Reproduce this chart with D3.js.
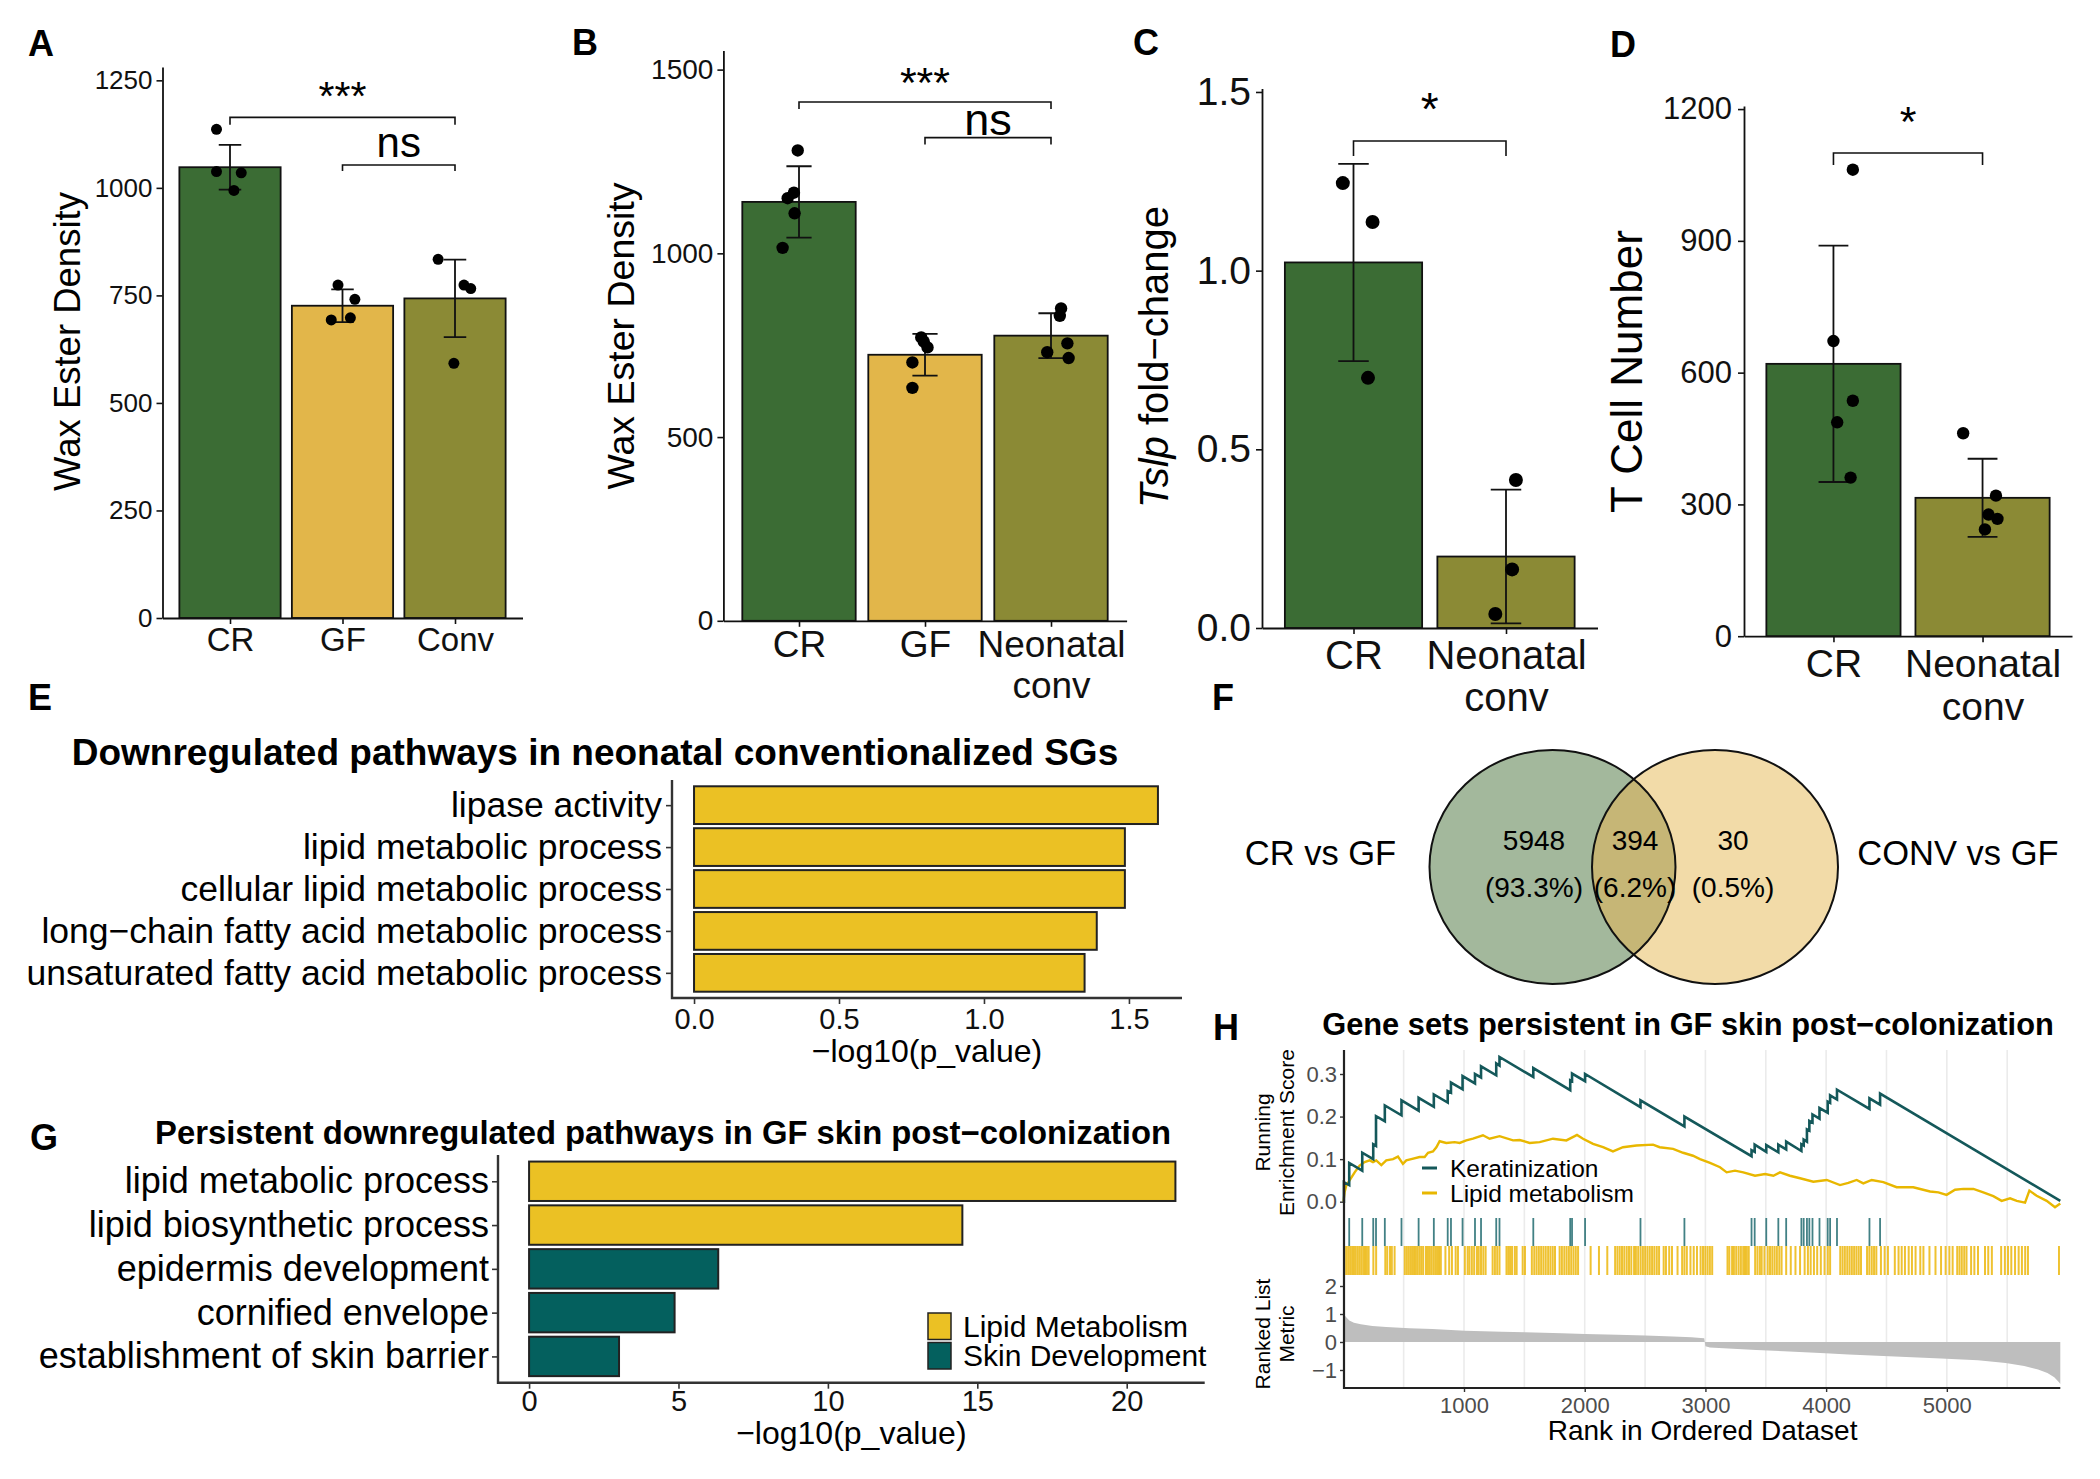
<!DOCTYPE html>
<html><head><meta charset="utf-8">
<script src="https://cdn.jsdelivr.net/npm/d3@7"></script>
<style>
html,body{margin:0;padding:0;background:#fff;}
svg{display:block;font-family:"Liberation Sans",Arial,Helvetica,sans-serif;}
</style></head><body>
<svg id="fig" width="2100" height="1479"></svg>
<script>
// ---------------- DATA ----------------
// Panel A
const catsA = ["CR","GF","Conv"];
const meanA = [1048, 726, 743];
const sdA = [52, 38, 90];
const ptsA = [[1136,1038,1035,994],[774,741,693,698],[834,774,766,592]];
const jitterA = [[-0.12,-0.12,0.10,0.035],[-0.04,0.11,-0.10,0.07],[-0.15,0.08,0.14,-0.01]];
const ticksA = [0,250,500,750,1000,1250];
const sigA = [{from:"CR",to:"Conv",y:1164,label:"***"},{from:"GF",to:"Conv",y:1053,label:"ns"}];
// Panel B
const catsB = ["CR","GF","Neonatal\nconv"];
const meanB = [1140, 724, 776];
const sdB = [97, 57, 61];
const ptsB = [[1280,1165,1150,1109,1015],[771,760,744,703,634],[850,830,755,731,715]];
const jitterB = [[-0.01,-0.04,-0.09,-0.035,-0.13],[-0.03,-0.01,0.02,-0.10,-0.10],[0.08,0.07,0.13,-0.03,0.14]];
const ticksB = [0,500,1000,1500];
const sigB = [{from:"CR",to:"Neonatal\nconv",y:1412,label:"***"},{from:"GF",to:"Neonatal\nconv",y:1315,label:"ns"}];
// Panel C
const catsC = ["CR","Neonatal\nconv"];
const meanC = [1.023, 0.200];
const sdC = [0.276, 0.187];
const ptsC = [[1.245,1.136,0.700],[0.414,0.164,0.039]];
const jitterC = [[-0.07,0.125,0.095],[0.065,0.04,-0.07]];
const ticksC = [0,0.5,1.0,1.5];
const sigC = [{from:"CR",to:"Neonatal\nconv",y:1.363,label:"*"}];
// Panel D
const catsD = ["CR","Neonatal\nconv"];
const meanD = [620, 315];
const sdD = [269, 89];
const ptsD = [[1062,672,536,487,361],[462,320,277,267,243]];
const jitterD = [[0.13,0,0.13,0.025,0.115],[-0.13,0.09,0.04,0.10,0.016]];
const ticksD = [0,300,600,900,1200];
const sigD = [{from:"CR",to:"Neonatal\nconv",y:1100,label:"*"}];
// Panel E
const pathE = ["lipase activity","lipid metabolic process","cellular lipid metabolic process","long\u2212chain fatty acid metabolic process","unsaturated fatty acid metabolic process"];
const valE = [1.600, 1.486, 1.486, 1.389, 1.347];
const ticksE = [0,0.5,1.0,1.5];
// Panel F
const vennSets = ["CR vs GF","CONV vs GF"];
const vennCounts = [5948, 394, 30];
const vennPct = ["93.3%","6.2%","0.5%"];
// Panel G
const pathG = ["lipid metabolic process","lipid biosynthetic process","epidermis development","cornified envelope","establishment of skin barrier"];
const valG = [21.63, 14.5, 6.33, 4.87, 3.01];
const groupG = ["Lipid Metabolism","Lipid Metabolism","Skin Development","Skin Development","Skin Development"];
const groupsG = ["Lipid Metabolism","Skin Development"];
const ticksG = [0,5,10,15,20];
// Panel H
const nGenes = 5940;
const ticksHx = [1000,2000,3000,4000,5000];
const ticksHes = [0,0.1,0.2,0.3];
const ticksHm = [-1,0,1,2];
const esKerat = [[1,0],[5,0],[5,0.046],[49,0.039],[49,0.091],[157,0.073],[157,0.115],[248,0.100],[248,0.135],[271,0.131],[271,0.201],[344,0.189],[344,0.226],[482,0.203],[482,0.238],[624,0.214],[624,0.244],[750,0.223],[750,0.252],[865,0.233],[865,0.260],[892,0.256],[892,0.280],[988,0.264],[988,0.295],[1091,0.278],[1091,0.300],[1141,0.292],[1141,0.318],[1267,0.297],[1267,0.325],[1294,0.320],[1294,0.340],[1574,0.293],[1574,0.314],[1880,0.262],[1880,0.285],[1895,0.283],[1895,0.301],[2003,0.283],[2003,0.300],[2462,0.222],[2462,0.238],[2826,0.177],[2826,0.200],[3382,0.107],[3382,0.121],[3408,0.117],[3408,0.134],[3504,0.117],[3504,0.133],[3604,0.116],[3604,0.134],[3669,0.123],[3669,0.141],[3795,0.119],[3795,0.135],[3814,0.132],[3814,0.146],[3841,0.141],[3841,0.170],[3861,0.167],[3861,0.190],[3887,0.186],[3887,0.205],[3945,0.195],[3945,0.220],[4013,0.209],[4013,0.235],[4033,0.232],[4033,0.250],[4090,0.240],[4090,0.263],[4359,0.218],[4359,0.243],[4447,0.228],[4447,0.254],[5940,0.002]];
const esLipid = [[1,0],[11,0.022],[25,0.038],[52,0.05],[94,0.069],[135,0.085],[177,0.093],[218,0.097],[246,0.093],[273,0.097],[315,0.086],[356,0.097],[412,0.10],[453,0.106],[494,0.089],[522,0.097],[563,0.10],[632,0.105],[674,0.105],[702,0.115],[743,0.118],[771,0.128],[798,0.142],[853,0.138],[922,0.14],[964,0.138],[1019,0.144],[1074,0.148],[1157,0.156],[1212,0.148],[1295,0.154],[1406,0.144],[1461,0.145],[1544,0.138],[1627,0.14],[1737,0.148],[1848,0.144],[1917,0.154],[1936,0.157],[1986,0.148],[2069,0.136],[2152,0.128],[2234,0.118],[2317,0.128],[2428,0.132],[2566,0.134],[2621,0.128],[2732,0.124],[2815,0.115],[2897,0.108],[2955,0.10],[3038,0.091],[3121,0.081],[3176,0.069],[3245,0.073],[3314,0.069],[3411,0.061],[3494,0.065],[3563,0.061],[3618,0.069],[3700,0.061],[3784,0.055],[3894,0.047],[4005,0.051],[4115,0.039],[4184,0.044],[4253,0.051],[4308,0.043],[4378,0.051],[4474,0.046],[4584,0.034],[4722,0.034],[4861,0.024],[4930,0.022],[4998,0.016],[5068,0.028],[5137,0.03],[5220,0.03],[5302,0.022],[5385,0.013],[5454,0.002],[5524,0.008],[5579,0.002],[5648,-0.002],[5684,0.026],[5744,0.014],[5827,0.002],[5896,-0.013],[5940,-0.004]];
const hitsKerat = [5,49,157,248,271,344,482,624,750,865,892,988,1091,1141,1267,1294,1574,1880,1895,2003,2462,2826,3382,3408,3504,3604,3669,3795,3814,3841,3861,3887,3945,4013,4033,4090,4359,4447];
const hitsLipid = [11,27,42,57,73,88,103,119,134,149,165,180,195,210,249,272,348,364,387,402,425,509,525,540,555,570,586,601,616,632,647,662,685,701,716,731,747,762,777,793,808,846,877,900,931,950,1007,1030,1045,1065,1084,1107,1122,1141,1160,1179,1237,1256,1275,1294,1352,1367,1382,1398,1421,1436,1486,1505,1562,1582,1601,1620,1639,1658,1677,1697,1716,1735,1754,1792,1811,1831,1850,1869,1888,1907,1926,1945,2049,2118,2187,2252,2271,2290,2309,2328,2348,2367,2386,2409,2424,2443,2463,2482,2501,2520,2539,2558,2577,2597,2616,2654,2673,2700,2723,2769,2807,2826,2846,2876,2903,2930,2960,2980,2999,3018,3037,3056,3183,3198,3221,3236,3255,3275,3294,3313,3328,3343,3359,3412,3431,3451,3466,3489,3516,3535,3554,3573,3592,3612,3631,3669,3707,3746,3784,3822,3849,3872,3899,3926,3956,3987,4014,4033,4117,4136,4155,4175,4194,4213,4232,4251,4270,4289,4339,4358,4378,4397,4416,4454,4485,4512,4569,4600,4626,4653,4684,4711,4741,4780,4806,4856,4906,4952,4990,5021,5048,5086,5105,5124,5144,5163,5201,5228,5258,5316,5343,5373,5450,5481,5507,5534,5565,5595,5622,5649,5672,5929];
const rankMetric = [[1,1.0],[30,0.86],[50,0.77],[88,0.69],[145,0.63],[241,0.575],[356,0.54],[547,0.49],[739,0.46],[1007,0.40],[1314,0.37],[1505,0.345],[1811,0.31],[2003,0.29],[2271,0.26],[2501,0.23],[2731,0.195],[2884,0.17],[2960,0.14],[2990,0.13],[3000,-0.15],[3037,-0.195],[3228,-0.24],[3420,-0.29],[3650,-0.33],[3994,-0.40],[4186,-0.45],[4569,-0.52],[4952,-0.59],[5258,-0.655],[5488,-0.75],[5641,-0.86],[5756,-0.98],[5833,-1.11],[5890,-1.26],[5929,-1.44],[5940,-1.5]];

// ---------------- STYLE ----------------
const FONT = '"Liberation Sans", Arial, Helvetica, sans-serif';
const C_GREEN = "#3B6C34", C_GOLD = "#E2B64A", C_OLIVE = "#8B8A35";
const C_BARGOLD = "#EBC124", C_TEAL = "#04605E";

const svg = d3.select("#fig");
svg.append("rect").attr("width",2100).attr("height",1479).attr("fill","#fff");

function panelLetter(t,x,y){
  svg.append("text").attr("x",x).attr("y",y).attr("font-size",36).attr("font-weight","bold")
    .attr("font-family",FONT).text(t);
}

function barPanel(o){
  const g = svg.append("g").attr("font-family",FONT);
  const x = d3.scalePoint().domain(o.cats).range([o.x0,o.x1]).padding(0.6);
  const st = x.step();
  const y = d3.scaleLinear().domain([0,o.yMax]).range([o.yBase,o.yTop]);
  g.selectAll("rect.bar").data(o.cats).join("rect").attr("class","bar")
    .attr("x",d=>x(d)-0.45*st).attr("width",0.9*st)
    .attr("y",(d,i)=>y(o.mean[i])).attr("height",(d,i)=>y(0)-y(o.mean[i]))
    .attr("fill",(d,i)=>o.colors[i]).attr("stroke","#111").attr("stroke-width",1.8);
  g.selectAll("path.eb").data(o.cats).join("path").attr("class","eb")
    .attr("d",(d,i)=>{const cx=x(d), w=0.1*st, hi=y(o.mean[i]+o.sd[i]), lo=y(o.mean[i]-o.sd[i]);
      return `M${cx-w},${hi}H${cx+w}M${cx},${hi}V${lo}M${cx-w},${lo}H${cx+w}`;})
    .attr("stroke","#111").attr("stroke-width",1.8).attr("fill","none");
  const pts=[];
  o.cats.forEach((c,i)=>o.pts[i].forEach((v,j)=>pts.push({c,v,j:o.jit[i][j]})));
  g.selectAll("circle.pt").data(pts).join("circle").attr("class","pt")
    .attr("cx",d=>x(d.c)+d.j*st).attr("cy",d=>y(d.v)).attr("r",o.r).attr("fill","#000");
  const ya = g.append("g").attr("transform",`translate(${o.x0},0)`)
    .call(d3.axisLeft(y).tickValues(o.ticks).tickFormat(o.fmt).tickSize(o.tick).tickSizeOuter(0).tickPadding(o.pad));
  ya.select(".domain").attr("stroke","#111").attr("stroke-width",1.8);
  ya.selectAll(".tick line").attr("stroke","#111").attr("stroke-width",1.6);
  ya.selectAll(".tick text").attr("font-size",o.tickFont).attr("fill","#111").attr("font-family",FONT);
  const xa = g.append("g").attr("transform",`translate(0,${o.yBase})`)
    .call(d3.axisBottom(x).tickSize(o.tick).tickSizeOuter(0));
  xa.select(".domain").attr("stroke","#111").attr("stroke-width",1.8);
  xa.selectAll(".tick line").attr("stroke","#111").attr("stroke-width",1.6);
  xa.selectAll(".tick text").each(function(d){
    const t=d3.select(this);
    t.text(null).attr("y",o.xBase-o.yBase).attr("dy",0).attr("font-size",o.xFont)
      .attr("fill","#111").attr("font-family",FONT);
    d.split("\n").forEach((s,k)=>t.append("tspan").attr("x",0).attr("dy",k?o.lineH:0).text(s));
  });
  o.sig.forEach((s,k)=>{
    const st2=o.sigStyle[k]; const a=x(s.from), b=x(s.to), yy=y(s.y);
    g.append("path").attr("d",`M${a},${yy+st2.tip}V${yy}H${b}V${yy+st2.tip}`)
      .attr("fill","none").attr("stroke","#111").attr("stroke-width",1.6);
    g.append("text").attr("x",(a+b)/2+(st2.dx||0)).attr("y",yy-st2.off).attr("text-anchor","middle")
      .attr("font-size",st2.fs).attr("fill","#000").text(s.label);
  });
  const yt = g.append("text").attr("transform",`translate(${o.titleX},${o.titleY}) rotate(-90)`)
    .attr("text-anchor","middle").attr("font-size",o.titleFont).attr("fill","#000");
  if(o.italicPart){
    yt.append("tspan").attr("font-style","italic").text(o.italicPart);
    yt.append("tspan").text(o.title);
  } else yt.text(o.title);
}

panelLetter("A",28,56); panelLetter("B",572,55); panelLetter("C",1133,55); panelLetter("D",1610,57);
panelLetter("E",28,710); panelLetter("F",1212,710); panelLetter("G",30,1150); panelLetter("H",1213,1040);

barPanel({cats:catsA,mean:meanA,sd:sdA,pts:ptsA,jit:jitterA,ticks:ticksA,sig:sigA,fmt:d3.format("d"),
  colors:[C_GREEN,C_GOLD,C_OLIVE],x0:162.5,x1:522.5,yBase:618,yTop:67,yMax:1281,
  tick:6,pad:4,tickFont:26,xFont:33,xBase:651,lineH:41,r:5.5,
  title:"Wax Ester Density",titleX:80,titleY:341.5,titleFont:36.5,
  sigStyle:[{tip:7.5,off:7,fs:41},{tip:6,off:8,fs:42}]});
barPanel({cats:catsB,mean:meanB,sd:sdB,pts:ptsB,jit:jitterB,ticks:ticksB,sig:sigB,fmt:d3.format("d"),
  colors:[C_GREEN,C_GOLD,C_OLIVE],x0:723.4,x1:1126.6,yBase:620.8,yTop:50.5,yMax:1552,
  tick:6,pad:4,tickFont:28,xFont:37,xBase:657,lineH:41,r:6.2,
  title:"Wax Ester Density",titleX:634,titleY:336,titleFont:37.5,
  sigStyle:[{tip:7,off:5,fs:43},{tip:7,off:3,fs:45,dx:0}]});
barPanel({cats:catsC,mean:meanC,sd:sdC,pts:ptsC,jit:jitterC,ticks:ticksC,sig:sigC,fmt:d3.format(".1f"),
  colors:[C_GREEN,C_OLIVE],x0:1262,x1:1597.5,yBase:628,yTop:88.4,yMax:1.51,
  tick:6,pad:5,tickFont:39,xFont:40,xBase:669,lineH:42,r:7,
  italicPart:"Tslp",title:" fold\u2212change",titleX:1168,titleY:357,titleFont:40,
  sigStyle:[{tip:15,off:16,fs:46}]});
barPanel({cats:catsD,mean:meanD,sd:sdD,pts:ptsD,jit:jitterD,ticks:ticksD,sig:sigD,fmt:d3.format("d"),
  colors:[C_GREEN,C_OLIVE],x0:1744,x1:2072,yBase:636.2,yTop:106,yMax:1207,
  tick:6,pad:6,tickFont:31,xFont:39,xBase:677,lineH:43,r:6.2,
  title:"T Cell Number",titleX:1641.5,titleY:371.6,titleFont:44,
  sigStyle:[{tip:12,off:17,fs:43}]});

// ---------- horizontal bar panels (E, G) ----------
function hbar(o){
  const g = svg.append("g").attr("font-family",FONT);
  const y = d3.scalePoint().domain(o.cats).range([o.y0,o.y1]).padding(0.6);
  const st = y.step();
  const x = d3.scaleLinear().domain(o.xd).range([o.x0,o.x1]);
  g.selectAll("rect").data(o.cats).join("rect")
    .attr("x",x(0)).attr("y",d=>y(d)-0.45*st).attr("height",0.9*st)
    .attr("width",(d,i)=>x(o.vals[i])-x(0)).attr("fill",(d,i)=>o.fill(i))
    .attr("stroke","#222").attr("stroke-width",2);
  const xa = g.append("g").attr("transform",`translate(0,${o.y1})`)
    .call(d3.axisBottom(x).tickValues(o.ticks).tickFormat(o.fmt).tickSize(6).tickPadding(4));
  xa.select(".domain").remove();
  xa.selectAll(".tick line").attr("stroke","#333").attr("stroke-width",1.6);
  xa.selectAll(".tick text").attr("font-size",o.tickFont).attr("fill","#111").attr("font-family",FONT)
    .attr("dy",0).attr("y",o.tickBase-o.y1);
  const ya = g.append("g").attr("transform",`translate(${o.x0},0)`)
    .call(d3.axisLeft(y).tickSize(6).tickPadding(o.pad));
  ya.select(".domain").remove();
  ya.selectAll(".tick line").attr("stroke","#333").attr("stroke-width",1.6);
  ya.selectAll(".tick text").attr("font-size",o.labFont).attr("fill","#000").attr("font-family",FONT);
  g.append("path").attr("d",`M${o.x0},${o.y0}V${o.y1}H${o.x1}`).attr("fill","none")
    .attr("stroke","#333").attr("stroke-width",2.4);
  g.append("text").attr("x",(o.x0+o.x1)/2).attr("y",o.xtBase).attr("text-anchor","middle")
    .attr("font-size",o.xtFont).text("\u2212log10(p_value)");
  g.append("text").attr("x",o.titleX).attr("y",o.titleY).attr("text-anchor","middle")
    .attr("font-size",o.titleFont).attr("font-weight","bold").text(o.title);
  return {g,x,y};
}
hbar({cats:pathE,vals:valE,ticks:ticksE,fmt:d3.format(".1f"),xd:[-0.076,1.683],x0:672,x1:1182,y0:780,y1:998,
  fill:()=>C_BARGOLD,tickFont:29,tickBase:1029,labFont:35.5,pad:4,xtBase:1062,xtFont:32,
  title:"Downregulated pathways in neonatal conventionalized SGs",titleX:595,titleY:765,titleFont:37});
const colG = d3.scaleOrdinal().domain(groupsG).range([C_BARGOLD,C_TEAL]);
hbar({cats:pathG,vals:valG,ticks:ticksG,fmt:d3.format("d"),xd:[-1.04,22.61],x0:498,x1:1204.7,y0:1155,y1:1382.7,
  fill:i=>colG(groupG[i]),tickFont:29,tickBase:1411,labFont:36,pad:3,xtBase:1444,xtFont:32,
  title:"Persistent downregulated pathways in GF skin post\u2212colonization",titleX:663,titleY:1144,titleFont:32.8});
const lg = svg.append("g").attr("font-family",FONT);
groupsG.forEach((k,i)=>{
  lg.append("rect").attr("x",928).attr("y",1313+i*29.5).attr("width",23).attr("height",26.5)
    .attr("fill",colG(k)).attr("stroke","#222").attr("stroke-width",1.5);
  lg.append("text").attr("x",963).attr("y",1326+i*29.5).attr("dy","0.36em").attr("font-size",30).text(k);
});

// ---------- Venn (F) ----------
const vg = svg.append("g").attr("font-family",FONT);
const defs = svg.append("defs");
const ell = [{cx:1552.5,cy:867,rx:123,ry:117},{cx:1715,cy:867,rx:123,ry:117}];
defs.append("clipPath").attr("id","clipL").append("ellipse")
  .attr("cx",ell[0].cx).attr("cy",ell[0].cy).attr("rx",ell[0].rx).attr("ry",ell[0].ry);
const vcol = ["#A3B89C","#F2DBA8"];
ell.forEach((e,i)=>vg.append("ellipse").attr("cx",e.cx).attr("cy",e.cy).attr("rx",e.rx).attr("ry",e.ry).attr("fill",vcol[i]));
vg.append("ellipse").attr("cx",ell[1].cx).attr("cy",ell[1].cy).attr("rx",ell[1].rx).attr("ry",ell[1].ry)
  .attr("fill","#C6B676").attr("clip-path","url(#clipL)");
ell.forEach(e=>vg.append("ellipse").attr("cx",e.cx).attr("cy",e.cy).attr("rx",e.rx).attr("ry",e.ry)
  .attr("fill","none").attr("stroke","#111").attr("stroke-width",2));
const vx = [1534,1635,1733];
vennCounts.forEach((c,i)=>{
  vg.append("text").attr("x",vx[i]).attr("y",850).attr("text-anchor","middle").attr("font-size",28).text(c);
  vg.append("text").attr("x",vx[i]).attr("y",897).attr("text-anchor","middle").attr("font-size",28).text("("+vennPct[i]+")");
});
vg.append("text").attr("x",1320.5).attr("y",865).attr("text-anchor","middle").attr("font-size",34.5).text(vennSets[0]);
vg.append("text").attr("x",1958).attr("y",865).attr("text-anchor","middle").attr("font-size",34.5).text(vennSets[1]);

// ---------- GSEA (H) ----------
const hg = svg.append("g").attr("font-family",FONT);
const xH = d3.scaleLinear().domain([0,nGenes]).range([1343.3,2060.3]);
const yES = d3.scaleLinear().domain([0,0.3]).range([1201.7,1074]);
const yM = d3.scaleLinear().domain([-1,2]).range([1370,1286]);
const gridV = d3.range(500,nGenes,500);
hg.selectAll("line.grid").data(gridV).join("line").attr("class","grid")
  .attr("x1",d=>xH(d)).attr("x2",d=>xH(d)).attr("y1",1050).attr("y2",1388)
  .attr("stroke","#EBEBEB").attr("stroke-width",1.6);
hg.append("path").datum(rankMetric)
  .attr("d",d3.area().x(d=>xH(d[0])).y0(yM(0)).y1(d=>yM(d[1])))
  .attr("fill","#BEBEBE");
hg.selectAll("line.rk").data(hitsKerat).join("line").attr("class","rk")
  .attr("x1",d=>xH(d)).attr("x2",d=>xH(d)).attr("y1",1218).attr("y2",1246)
  .attr("stroke","#2E7478").attr("stroke-width",1.8).attr("opacity",0.9);
hg.selectAll("line.rl").data(hitsLipid).join("line").attr("class","rl")
  .attr("x1",d=>xH(d)).attr("x2",d=>xH(d)).attr("y1",1246).attr("y2",1275)
  .attr("stroke","#EDB80E").attr("stroke-width",2).attr("opacity",0.85);
const lineES = d3.line().x(d=>xH(d[0])).y(d=>yES(d[1]));
hg.append("path").datum(esLipid).attr("d",lineES).attr("fill","none").attr("stroke","#E8B700").attr("stroke-width",2.4);
hg.append("path").datum(esKerat).attr("d",lineES).attr("fill","none").attr("stroke","#14585A").attr("stroke-width",2.6);
const axES = hg.append("g").attr("transform","translate(1344,0)")
  .call(d3.axisLeft(yES).tickValues(ticksHes).tickFormat(d3.format(".1f")).tickSize(4).tickPadding(3));
const axM = hg.append("g").attr("transform","translate(1344,0)")
  .call(d3.axisLeft(yM).tickValues(ticksHm).tickFormat(d3.format("d")).tickSize(4).tickPadding(3));
const axX = hg.append("g").attr("transform","translate(0,1388)")
  .call(d3.axisBottom(xH).tickValues(ticksHx).tickFormat(d3.format("d")).tickSize(4).tickPadding(3));
[axES,axM,axX].forEach(a=>{
  a.select(".domain").remove();
  a.selectAll(".tick line").attr("stroke","#333").attr("stroke-width",1.4);
  a.selectAll(".tick text").attr("font-size",22).attr("fill","#4D4D4D").attr("font-family",FONT);
});
axX.selectAll(".tick text").attr("dy",0).attr("y",25);
hg.append("path").attr("d",`M1344,1050V1388H2060.3`).attr("fill","none").attr("stroke","#222").attr("stroke-width",2.2);
function rotTitle(lines,cy,x1,gap){
  lines.forEach((s,k)=>hg.append("text").attr("transform",`translate(${x1+k*gap},${cy}) rotate(-90)`)
    .attr("text-anchor","middle").attr("font-size",21).text(s));
}
rotTitle(["Running","Enrichment Score"],1132.5,1269.5,24);
rotTitle(["Ranked List","Metric"],1334,1269.5,24);
hg.append("text").attr("x",1702.6).attr("y",1440).attr("text-anchor","middle").attr("font-size",28).text("Rank in Ordered Dataset");
hg.append("text").attr("x",1688).attr("y",1035).attr("text-anchor","middle").attr("font-size",30.8).attr("font-weight","bold")
  .text("Gene sets persistent in GF skin post\u2212colonization");
[["Keratinization","#14585A",1168,1177],["Lipid metabolism","#E8B700",1193,1202]].forEach(([t,c,ly,tb])=>{
  hg.append("line").attr("x1",1422).attr("x2",1437).attr("y1",ly).attr("y2",ly).attr("stroke",c).attr("stroke-width",3);
  hg.append("text").attr("x",1450).attr("y",tb).attr("font-size",24.5).text(t);
});
</script>
</body></html>
